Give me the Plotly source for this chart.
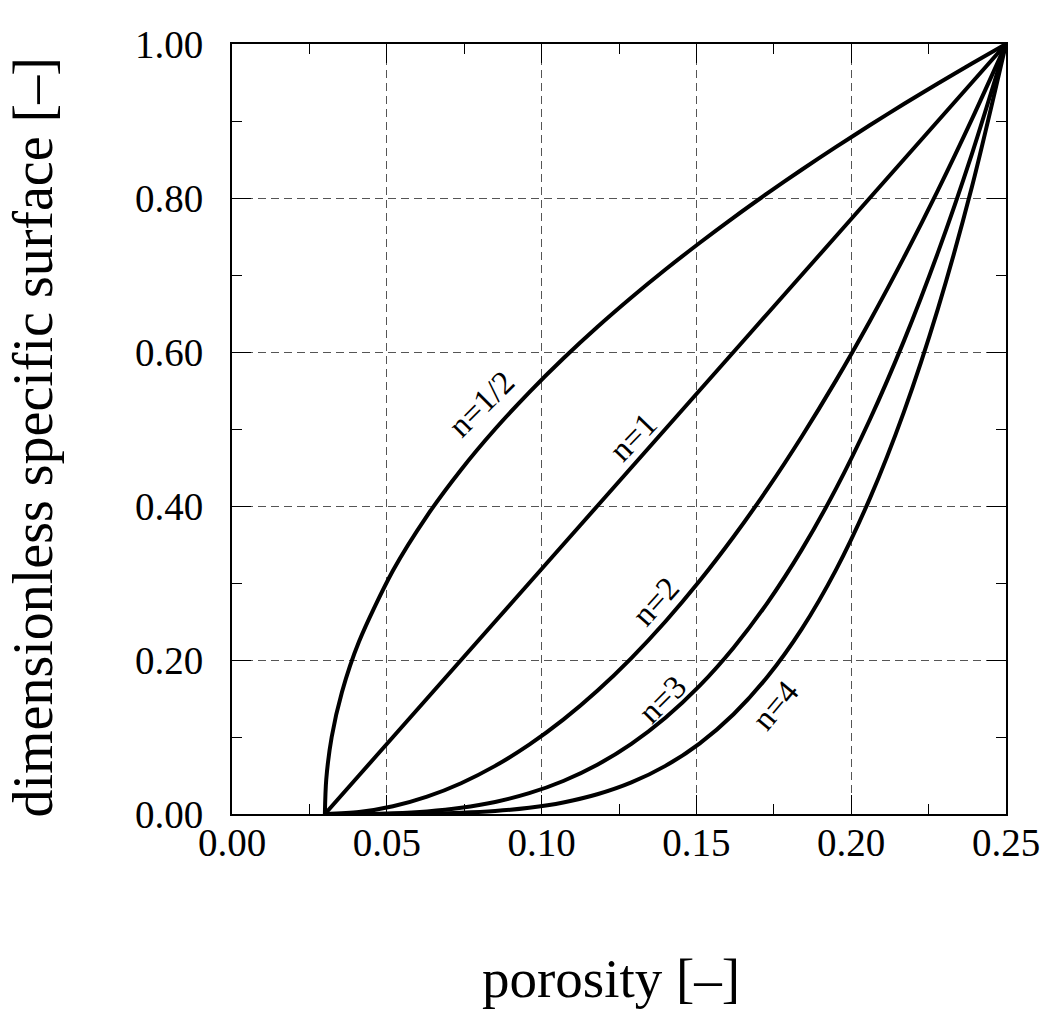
import plotly.graph_objects as go

# porosity values (x)
x_common = [0.030, 0.041, 0.052, 0.063, 0.074, 0.085, 0.096, 0.107, 0.118, 0.129, 0.140,
            0.151, 0.162, 0.173, 0.184, 0.195, 0.206, 0.217, 0.228, 0.239, 0.250]
x_half = [0.030, 0.03044, 0.0322, 0.0355] + x_common[1:]

# dimensionless specific surface (y) for each curve
y_half = [0.0, 0.0447, 0.1, 0.1581, 0.2236, 0.3162, 0.3873, 0.4472, 0.5, 0.5477, 0.5916, 0.6325,
          0.6708, 0.7071, 0.7416, 0.7746, 0.8062, 0.8367, 0.8660, 0.8944, 0.9220, 0.9487, 0.9747, 1.0]
y_n1 = [0.0, 0.05, 0.1, 0.15, 0.2, 0.25, 0.3, 0.35, 0.4, 0.45, 0.5,
        0.55, 0.6, 0.65, 0.7, 0.75, 0.8, 0.85, 0.9, 0.95, 1.0]
y_n2 = [0.0, 0.0025, 0.01, 0.0225, 0.04, 0.0625, 0.09, 0.1225, 0.16, 0.2025, 0.25,
        0.3025, 0.36, 0.4225, 0.49, 0.5625, 0.64, 0.7225, 0.81, 0.9025, 1.0]
y_n3 = [0.0, 0.000125, 0.001, 0.003375, 0.008, 0.015625, 0.027, 0.042875, 0.064, 0.091125, 0.125,
        0.166375, 0.216, 0.274625, 0.343, 0.421875, 0.512, 0.614125, 0.729, 0.857375, 1.0]
y_n4 = [0.0, 0.00000625, 0.0001, 0.000506, 0.0016, 0.003906, 0.0081, 0.015006, 0.0256, 0.041006, 0.0625,
        0.091506, 0.1296, 0.178506, 0.2401, 0.316406, 0.4096, 0.522006, 0.6561, 0.814506, 1.0]

series_names = ["n=1/2", "n=1", "n=2", "n=3", "n=4"]

# curve label positions (data coords) and angles
label_x = [0.0805, 0.1295, 0.1370, 0.1390, 0.1755]
label_y = [0.532, 0.490, 0.276, 0.150, 0.142]
label_angle = [-45, -46, -48, -45, -50]

xtick_vals = [0.00, 0.05, 0.10, 0.15, 0.20, 0.25]
ytick_vals = [0.00, 0.20, 0.40, 0.60, 0.80, 1.00]

FONT = "Liberation Serif"

fig = go.Figure()
for xs, ys, name in [(x_half, y_half, series_names[0]), (x_common, y_n1, series_names[1]),
                     (x_common, y_n2, series_names[2]), (x_common, y_n3, series_names[3]),
                     (x_common, y_n4, series_names[4])]:
    fig.add_trace(go.Scatter(x=xs, y=ys, mode="lines", name=name,
                             line=dict(color="black", width=4, shape="spline", smoothing=0.8),
                             showlegend=False, hoverinfo="skip"))

for lx, ly, la, txt in zip(label_x, label_y, label_angle, series_names):
    fig.add_annotation(x=lx, y=ly, text=txt, showarrow=False, textangle=la,
                       font=dict(family=FONT, size=33, color="black"))

fig.add_annotation(x=0.49, y=-0.214, xref="paper", yref="paper", text="porosity [–]",
                   showarrow=False, font=dict(family=FONT, size=55, color="black"),
                   xanchor="center", yanchor="middle")
fig.add_annotation(x=-0.257, y=0.489, xref="paper", yref="paper",
                   text="dimensionless specific surface [–]", textangle=-90,
                   showarrow=False, font=dict(family=FONT, size=56, color="black"),
                   xanchor="center", yanchor="middle")

axis_common = dict(showline=True, linecolor="black", linewidth=2, mirror="allticks",
                   ticks="inside", ticklen=19, tickwidth=1.2, tickcolor="black",
                   showgrid=True, gridcolor="#555555", gridwidth=1, griddash="8px,5px",
                   zeroline=False, tickformat=".2f", ticklabeloverflow="allow",
                   tickfont=dict(family=FONT, size=39, color="black"))

fig.update_xaxes(range=[0, 0.25], tickvals=xtick_vals, ticklabelstandoff=-7,
                 minor=dict(dtick=0.025, ticks="inside", ticklen=10, tickcolor="black",
                            tickwidth=1.2, showgrid=False),
                 **axis_common)
fig.update_yaxes(range=[0, 1.0], tickvals=ytick_vals, ticklabelstandoff=19,
                 minor=dict(dtick=0.1, ticks="inside", ticklen=10, tickcolor="black",
                            tickwidth=1.2, showgrid=False),
                 **axis_common)

fig.update_layout(width=1041, height=1010, plot_bgcolor="white", paper_bgcolor="white",
                  margin=dict(l=232, r=35, t=44, b=196, autoexpand=False))

fig.write_html("out.html", config={"displayModeBar": False},
               post_script="document.body.style.margin='0';document.body.style.overflow='hidden';")
